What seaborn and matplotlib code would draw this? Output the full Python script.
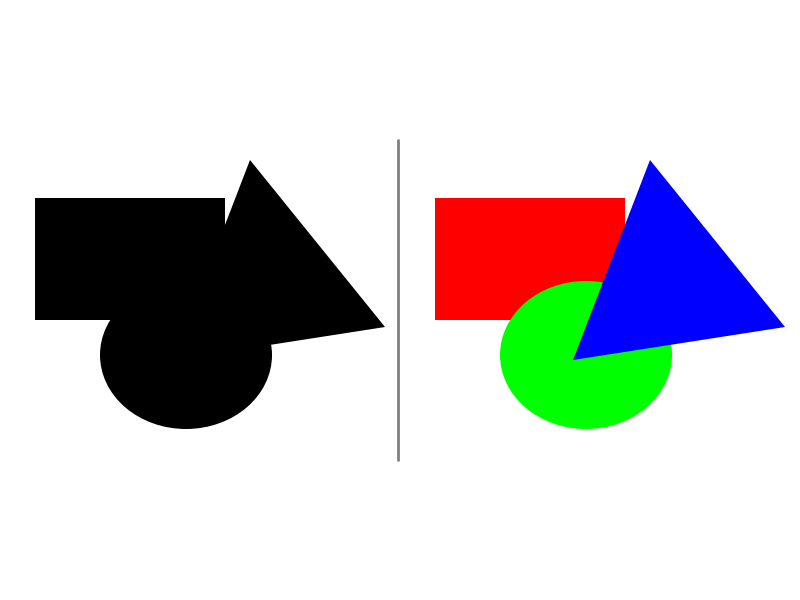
import matplotlib
matplotlib.use("Agg")
import matplotlib.pyplot as plt
from matplotlib.patches import Rectangle, Ellipse, Polygon
import seaborn as sns

sns.set_style("white")

# shape geometry in pixel space (right panel); left panel is shifted by -400
rect_xy = (435, 198)
rect_size = (190, 122)
ellipse_center = (586, 355)
ellipse_size = (172, 148)
triangle_pts = [(650, 160), (785, 327), (573, 360)]
colors = ["#ff0000", "#00ff00", "#0000ff"]
shift = 400
divider_x = 398
divider_y = (140, 460)

fig = plt.figure(figsize=(8, 6), dpi=100)
ax = fig.add_axes([0, 0, 1, 1])
ax.set_xlim(0, 800)
ax.set_ylim(600, 0)
ax.axis("off")


def draw_shapes(dx, cols):
    ax.add_patch(Rectangle((rect_xy[0] + dx, rect_xy[1]), *rect_size, color=cols[0], lw=0))
    ax.add_patch(Ellipse((ellipse_center[0] + dx, ellipse_center[1]), *ellipse_size, color=cols[1], lw=0))
    ax.add_patch(Polygon([(x + dx, y) for x, y in triangle_pts], color=cols[2], lw=0))


draw_shapes(-shift, ["black"] * 3)
draw_shapes(0, colors)
ax.plot([divider_x, divider_x], divider_y, color="gray", lw=2)

fig.savefig("out.png", dpi=100)
